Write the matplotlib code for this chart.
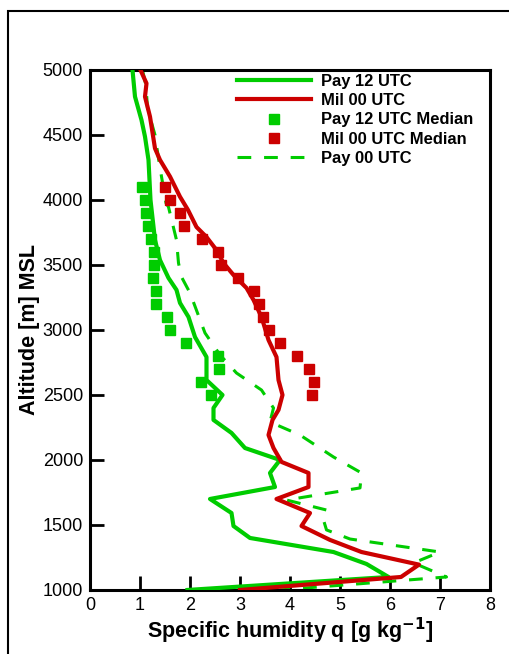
import matplotlib
matplotlib.use('Agg')
import matplotlib.pyplot as plt
from matplotlib.lines import Line2D
from matplotlib.patches import Rectangle

plt.rcParams['font.family'] = ['Liberation Sans', 'DejaVu Sans']

# Pay 12 UTC (solid green)
pay12_q = [0.85, 0.90, 1.03, 1.10, 1.17, 1.21, 1.30, 1.40, 1.57, 1.73, 1.80, 1.97, 2.10, 2.33, 2.33,
           2.65, 2.47, 2.47, 2.83, 3.10, 3.80, 3.60, 3.70, 2.40, 2.83, 2.87, 3.20, 4.87, 5.53, 5.97, 1.95]
pay12_z = [5000, 4795, 4615, 4487, 4308, 4000, 3692, 3538, 3400, 3308, 3208, 3100, 2946, 2792, 2615,
           2500, 2400, 2308, 2208, 2092, 2000, 1900, 1792, 1700, 1592, 1492, 1400, 1292, 1200, 1100, 1000]

# Mil 00 UTC (solid red)
mil00_q = [1.01, 1.13, 1.10, 1.20, 1.30, 1.40, 1.60, 1.80, 1.96, 2.13, 2.33, 2.53, 2.67, 2.87, 3.13,
           3.27, 3.43, 3.57, 3.73, 3.77, 3.85, 3.77, 3.65, 3.57, 3.67, 3.83, 4.37, 4.37, 3.73, 4.40,
           4.23, 4.80, 5.43, 6.58, 6.22, 3.00]
mil00_z = [5000, 4897, 4795, 4641, 4397, 4308, 4180, 4025, 3923, 3792, 3715, 3615, 3515, 3423, 3323,
           3231, 3100, 2923, 2792, 2615, 2500, 2385, 2308, 2192, 2092, 1985, 1900, 1792, 1700, 1592,
           1492, 1385, 1292, 1195, 1100, 1000]

# Pay 00 UTC (dashed green)
pay00_q = [1.05, 1.12, 1.15, 1.30, 1.37, 1.43, 1.52, 1.57, 1.73, 1.77, 1.83, 2.00, 2.30, 2.60, 2.93,
           3.43, 3.67, 3.60, 4.20, 4.87, 5.43, 5.40, 3.93, 4.73, 4.67, 4.73, 5.20, 7.00, 6.47, 7.13, 3.80]
pay00_z = [5000, 4880, 4705, 4500, 4320, 4180, 3977, 3946, 3692, 3515, 3408, 3285, 2977, 2808, 2669,
           2538, 2400, 2292, 2192, 2023, 1900, 1785, 1692, 1615, 1538, 1462, 1392, 1292, 1208, 1100, 1000]

# medians
med_z = [4100, 4000, 3900, 3800, 3700, 3600, 3500, 3400, 3300, 3200, 3100, 3000, 2900, 2800, 2700, 2600, 2500]
pay12_med = [1.05, 1.11, 1.13, 1.17, 1.23, 1.28, 1.28, 1.27, 1.33, 1.32, 1.55, 1.60, 1.92, 2.57, 2.59, 2.23, 2.43]
mil00_med = [1.50, 1.61, 1.80, 1.89, 2.25, 2.57, 2.63, 2.97, 3.27, 3.37, 3.45, 3.58, 3.80, 4.13, 4.38, 4.47, 4.43]

green = '#00cc00'
red = '#cc0000'

fig = plt.figure(figsize=(5.09, 6.54), dpi=100)
ax = fig.add_axes([0.1768, 0.0979, 0.7859, 0.7951])

# outer frame (cut off at right and bottom like the original)
fig.patches.append(Rectangle((8 / 509, -0.1), 1.2, 1.0 - 11 / 654 + 0.1, transform=fig.transFigure,
                             fill=False, edgecolor='black', linewidth=1.5, clip_on=False))

ax.plot(pay00_q, pay00_z, color=green, lw=2.2, dashes=(4.5, 4.2), zorder=2)
ax.plot(pay12_q, pay12_z, color=green, lw=3, zorder=3)
ax.plot(mil00_q, mil00_z, color=red, lw=3, zorder=3)
ax.plot(pay12_med, med_z, 's', color=green, ms=7.2, zorder=4)
ax.plot(mil00_med, med_z, 's', color=red, ms=7.2, zorder=4)

ax.set_xlim(0, 8)
ax.set_ylim(1000, 5000)
ax.set_xticks(range(0, 9))
ax.set_yticks(range(1000, 5001, 500))
ax.tick_params(direction='in', length=10, width=2, labelsize=13, pad=5)
for s in ax.spines.values():
    s.set_linewidth(2.2)

ax.set_xlabel('Specific humidity q [g kg$^{\\mathbf{-1}}$]', fontsize=15.5, fontweight='bold', labelpad=1)
ax.set_ylabel('Altitude [m] MSL', fontsize=15.5, fontweight='bold', labelpad=2)

handles = [Line2D([], [], color=green, lw=3),
           Line2D([], [], color=red, lw=3),
           Line2D([], [], ls='none', marker='s', color=green, ms=7.2),
           Line2D([], [], ls='none', marker='s', color=red, ms=7.2),
           Line2D([], [], color=green, lw=2.2, dashes=(4.5, 4.2))]
labels = ['Pay 12 UTC', 'Mil 00 UTC', 'Pay 12 UTC Median', 'Mil 00 UTC Median', 'Pay 00 UTC']
ax.legend(handles, labels, loc='upper left', bbox_to_anchor=(0.3675, 0.992), frameon=False,
          borderpad=0, borderaxespad=0, handlelength=4.5, handletextpad=0.6, labelspacing=0.25,
          prop={'weight': 'bold', 'size': 11.9})

fig.savefig('out.png', dpi=100)
